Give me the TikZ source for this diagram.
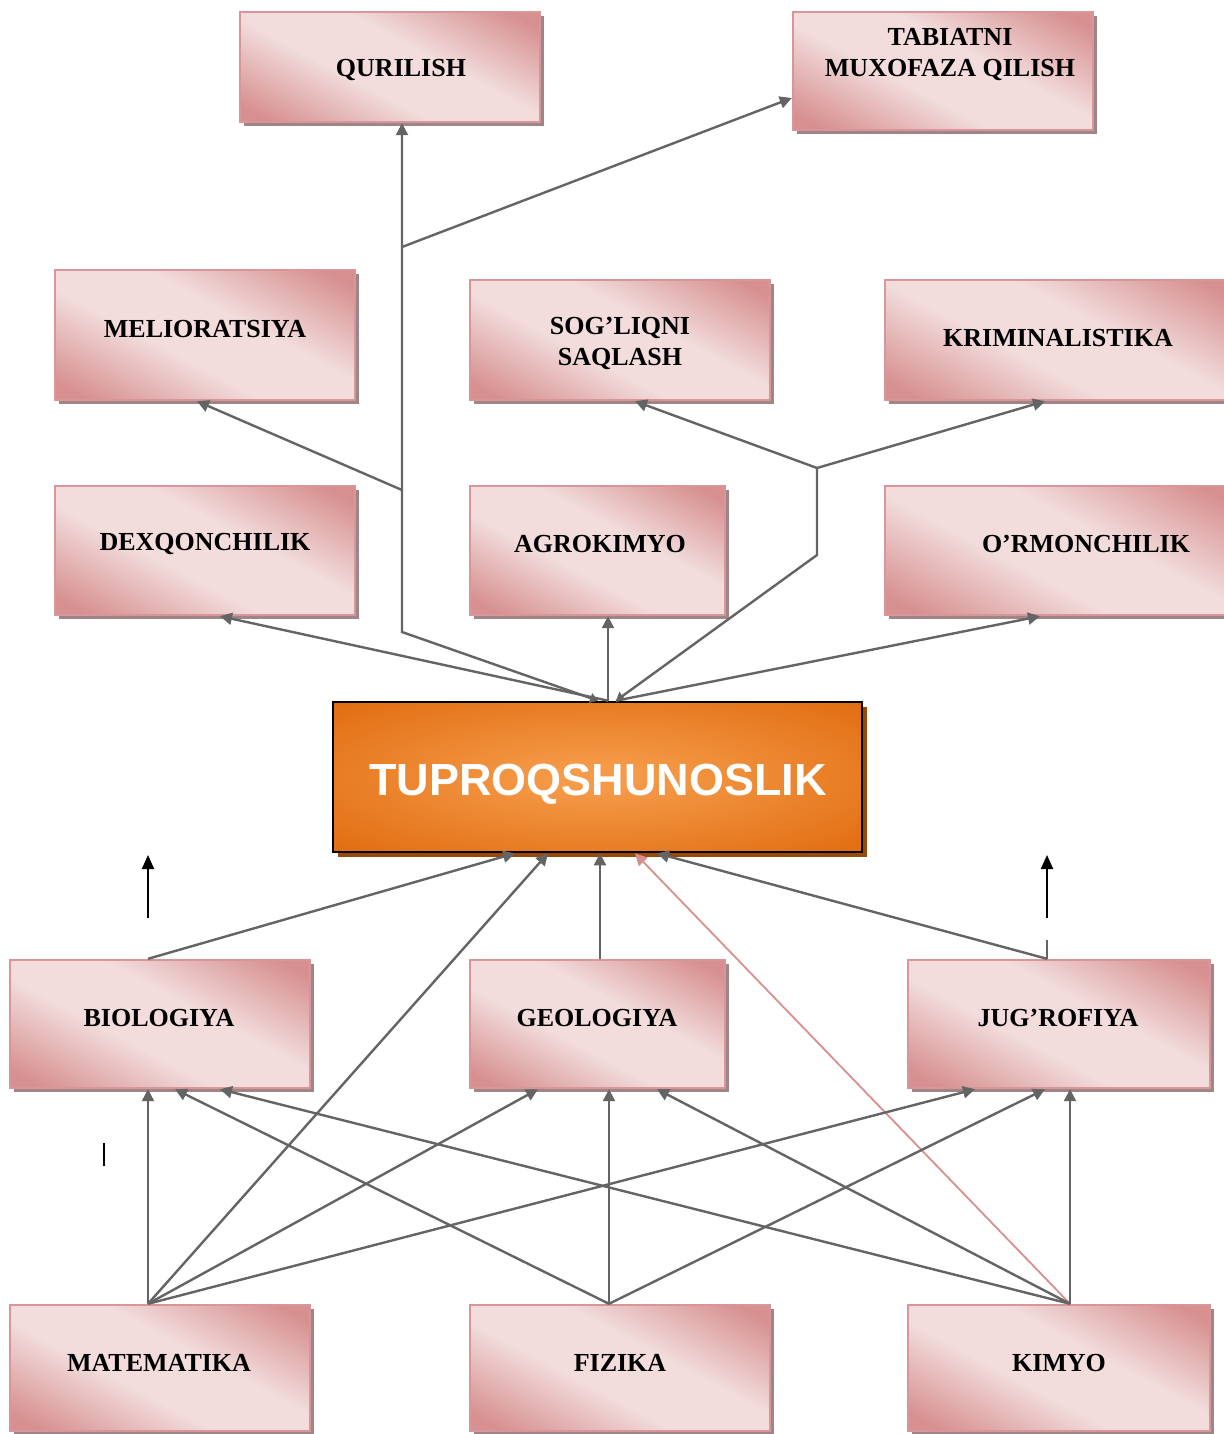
\documentclass[tikz,border=0pt]{standalone}
\usepackage{fontspec}
\setmainfont{Liberation Serif}
\newfontfamily\arialfont{Liberation Sans}
\usetikzlibrary{arrows.meta,shadows}
\definecolor{pD}{HTML}{D78F8F}
\definecolor{pL}{HTML}{F2DCDC}
\definecolor{pB}{HTML}{D8959A}
\definecolor{shd}{HTML}{9E8587}
\definecolor{oL}{HTML}{F59A48}
\definecolor{oD}{HTML}{DF690C}
\definecolor{oS}{HTML}{984807}
\definecolor{lnc}{HTML}{646464}
\pgfdeclareverticalshading{pinkdiag}{100bp}{color(0bp)=(pD); color(20bp)=(pD); color(42bp)=(pL); color(58bp)=(pL); color(80bp)=(pD); color(100bp)=(pD)}
\pgfdeclareradialshading{orangeglow}{\pgfpoint{0bp}{0bp}}{color(0bp)=(oL); color(4bp)=(oL); color(38bp)=(oD); color(100bp)=(oD)}
\tikzset{
  pbox/.style={draw=pB, line width=1.2pt, shading=pinkdiag, shading angle=-28,
    drop shadow={shadow xshift=2pt, shadow yshift=-2pt, fill=shd, opacity=1}, inner sep=0pt},
  ptext/.style={font=\fontsize{13}{15.5}\selectfont\bfseries, align=center, inner sep=0pt},
  tbox/.style={draw=black, line width=1.3pt, shading=orangeglow,
    drop shadow={shadow xshift=2.5pt, shadow yshift=-2.5pt, fill=oS, opacity=1}, inner sep=0pt},
  ttext/.style={font=\arialfont\bfseries\fontsize{22.5}{26}\selectfont, text=white, inner sep=0pt},
  lnk/.style={draw=lnc, line width=1.2pt},
  con/.style={lnk, -{Triangle[length=6pt,width=6pt]}},
  both/.style={lnk, {Triangle[length=4pt,width=5pt]}-{Triangle[length=6pt,width=6pt]}},
  tail/.style={lnk, {Triangle[length=4pt,width=5pt]}-},
  pinkcon/.style={draw=pD, line width=0.9pt, -{Triangle[length=6pt,width=6pt]}},
  blk/.style={draw=black, line width=1pt, -{Triangle[length=7pt,width=6pt]}},
}
\begin{document}
\begin{tikzpicture}[x=0.5pt,y=-0.5pt]
\fill[white] (0,0) rectangle (1224,1434);
\useasboundingbox (0,0) rectangle (1224,1434);
% boxes
\node[pbox, minimum width=150pt, minimum height=55pt] (qur) at (390,67) {};
\node[pbox, minimum width=150pt, minimum height=59pt] (tab) at (943,71) {};
\node[pbox, minimum width=150pt, minimum height=65pt] (mel) at (205,335) {};
\node[pbox, minimum width=150pt, minimum height=60pt] (sog) at (620,340) {};
\node[pbox, minimum width=175pt, minimum height=60pt] (kri) at (1060,340) {};
\node[pbox, minimum width=150pt, minimum height=64.5pt] (dex) at (205,550.5) {};
\node[pbox, minimum width=127.5pt, minimum height=64.5pt] (agr) at (597.5,550.5) {};
\node[pbox, minimum width=175pt, minimum height=64.5pt] (orm) at (1060,550.5) {};
\node[tbox, minimum width=264.5pt, minimum height=75pt] (tup) at (597.5,777) {};
\node[pbox, minimum width=150pt, minimum height=64pt] (bio) at (160,1024) {};
\node[pbox, minimum width=127.5pt, minimum height=64pt] (geo) at (597.5,1024) {};
\node[pbox, minimum width=151pt, minimum height=64pt] (jug) at (1059,1024) {};
\node[pbox, minimum width=150pt, minimum height=63pt] (mat) at (160,1368) {};
\node[pbox, minimum width=150pt, minimum height=63pt] (fiz) at (620,1368) {};
\node[pbox, minimum width=151pt, minimum height=63pt] (kim) at (1059,1368) {};
% texts
\node[ptext] (tqur) at (401,70) {QURILISH};
\node[ptext] (ttab) at (950,55) {TABIATNI\\MUXOFAZA QILISH};
\node[ptext] (tmel) at (205,329) {MELIORATSIYA};
\node[ptext] (tsog) at (620,343) {SOG’LIQNI\\SAQLASH};
\node[ptext] (tkri) at (1058,338) {KRIMINALISTIKA};
\node[ptext] (tdex) at (205,544) {DEXQONCHILIK};
\node[ptext] (tagr) at (600,544) {AGROKIMYO};
\node[ptext] (torm) at (1086,544) {O’RMONCHILIK};
\node[ttext] (ttup) at (598,784) {TUPROQSHUNOSLIK};
\node[ptext] (tbio) at (159,1018) {BIOLOGIYA};
\node[ptext] (tgeo) at (597,1018) {GEOLOGIYA};
\node[ptext] (tjug) at (1058,1018) {JUG’ROFIYA};
\node[ptext] (tmat) at (159,1363) {MATEMATIKA};
\node[ptext] (tfiz) at (620,1363) {FIZIKA};
\node[ptext] (tkim) at (1059,1363) {KIMYO};
% junctions
\coordinate (j1) at (402,632);
\coordinate (j2) at (402,490);
\coordinate (j3) at (402,247);
\coordinate (j4) at (817,555);
\coordinate (j5) at (817,468);
\coordinate (jstub) at (1047,940);
\coordinate (ba1) at (148,918);
\coordinate (ba2) at (148,855);
\coordinate (bb1) at (1047,918);
\coordinate (bb2) at (1047,855);
\coordinate (st1) at (104,1143);
\coordinate (st2) at (104,1166);
% upper connectors
\draw[con] (tup.north -| 608,0) -- (dex.south -| 220,0);
\draw[both] (tup.north -| 598,0) -- (j1) -- (qur.south -| 402,0);
\draw[con] (j2) -- (mel.south -| 197,0);
\draw[con] (j3) -- (tab.west |- 0,98);
\draw[con] (tup.north -| 608,0) -- (agr.south -| 608,0);
\draw[tail] (tup.north -| 616,0) -- (j4) -- (j5);
\draw[con] (j5) -- (sog.south -| 635,0);
\draw[con] (j5) -- (kri.south -| 1045,0);
\draw[con] (tup.north -| 616,0) -- (orm.south -| 1040,0);
% into TUPROQSHUNOSLIK
\draw[con] (bio.north -| 148,0) -- (tup.south -| 515,0);
\draw[con] (mat.north -| 148,0) -- (tup.south -| 548,0);
\draw[con] (geo.north -| 600,0) -- (tup.south -| 600,0);
\draw[pinkcon] (kim.north -| 1070,0) -- (tup.south -| 635,0);
\draw[con] (jug.north -| 1047,0) -- (tup.south -| 657,0);
\draw[lnk] (jug.north -| 1047,0) -- (jstub);
\draw[blk] (ba1) -- (ba2);
\draw[blk] (bb1) -- (bb2);
\draw[black, line width=0.8pt] (st1) -- (st2);
% bottom connectors
\draw[con] (mat.north -| 148,0) -- (bio.south -| 148,0);
\draw[con] (mat.north -| 148,0) -- (geo.south -| 538,0);
\draw[con] (mat.north -| 148,0) -- (jug.south -| 975,0);
\draw[con] (fiz.north -| 609,0) -- (bio.south -| 175,0);
\draw[con] (fiz.north -| 609,0) -- (geo.south -| 609,0);
\draw[con] (fiz.north -| 609,0) -- (jug.south -| 1045,0);
\draw[con] (kim.north -| 1070,0) -- (bio.south -| 220,0);
\draw[con] (kim.north -| 1070,0) -- (geo.south -| 657,0);
\draw[con] (kim.north -| 1070,0) -- (jug.south -| 1070,0);
\end{tikzpicture}
\end{document}
